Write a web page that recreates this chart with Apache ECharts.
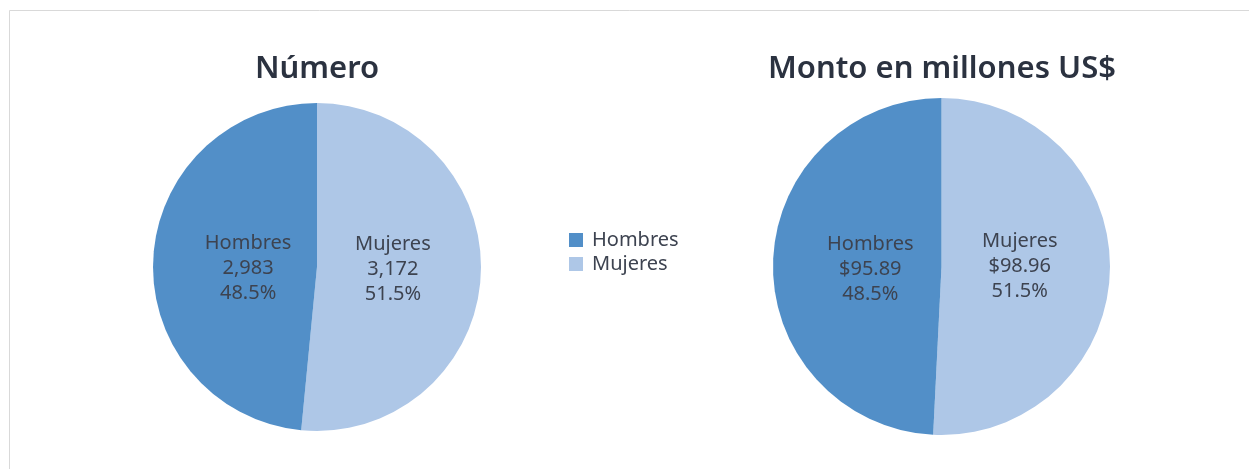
<!DOCTYPE html>
<html>
<head>
<meta charset="utf-8">
<script src="https://cdn.jsdelivr.net/npm/echarts@6/dist/echarts.min.js"></script>
<style>
  html, body { margin: 0; padding: 0; background: #ffffff; }
  #chart { width: 1249px; height: 469px; }
</style>
</head>
<body>
<div id="chart"></div>
<script>
// Categories in drawing order (clockwise from 12 o'clock) and legend order
const categories = ['Mujeres', 'Hombres'];
const legendOrder = ['Hombres', 'Mujeres'];

// Number of loans by gender
const countValues = [3172, 2983];
const countPercentLabels = ['51.5%', '48.5%'];

// Amount in millions of US$ by gender
const amountValues = [98.96, 95.89];
const amountPercentLabels = ['51.5%', '48.5%'];

const titles = ['Número', 'Monto en millones US$'];

const colors = { Mujeres: '#aec7e7', Hombres: '#528fc8' };
const textColor = '#3d4350';
const titleColor = '#2b3240';
const fontFamily = '"Noto Sans", "Open Sans", sans-serif';

// Nudge inner labels horizontally toward the pie's vertical axis
const labelShift = { Mujeres: [-9, -2], Hombres: [16, 5] };

function buildData(values) {
  return categories.map((name, i) => ({
    name: name,
    value: values[i],
    itemStyle: { color: colors[name] }
  }));
}

function pieSeries(values, percents, center, radius, fmt) {
  return {
    type: 'pie',
    center: center,
    radius: radius,
    startAngle: 90,
    clockwise: true,
    avoidLabelOverlap: false,
    emphasis: { disabled: true },
    itemStyle: { borderWidth: 0 },
    label: {
      show: true,
      position: 'inside',
      color: textColor,
      fontFamily: fontFamily,
      fontSize: 20,
      lineHeight: 25,
      formatter: p => p.name + '\n' + fmt(p.value) + '\n' + percents[p.dataIndex]
    },
    labelLayout: p => {
      const s = labelShift[categories[p.dataIndex]];
      return { dx: s[0], dy: s[1] };
    },
    labelLine: { show: false },
    data: buildData(values)
  };
}

const chart = echarts.init(document.getElementById('chart'), null, { renderer: 'canvas' });

const titleStyle = { fontFamily: fontFamily, fontSize: 31, fontWeight: 600, color: titleColor };

chart.setOption({
  animation: false,
  backgroundColor: '#ffffff',
  title: [
    { text: titles[0], left: 312, top: 49, textAlign: 'center', textStyle: titleStyle },
    { text: titles[1], left: 937, top: 49, textAlign: 'center', textStyle: titleStyle }
  ],
  legend: {
    orient: 'vertical',
    left: 569,
    top: 230,
    padding: 0,
    itemWidth: 14,
    itemHeight: 14,
    itemGap: 4,
    icon: 'rect',
    selectedMode: false,
    data: legendOrder,
    textStyle: { fontFamily: fontFamily, fontSize: 20, lineHeight: 20, color: textColor, padding: [0, 0, 0, 4] }
  },
  graphic: [
    {
      type: 'polyline',
      shape: { points: [[9.5, 469], [9.5, 10.5], [1249, 10.5]] },
      style: { stroke: '#d9d9d9', lineWidth: 1, fill: null },
      silent: true
    }
  ],
  series: [
    pieSeries(countValues, countPercentLabels, [317, 267], 164,
      v => v.toLocaleString('en-US')),
    pieSeries(amountValues, amountPercentLabels, [941.5, 266.5], 168.5,
      v => '$' + v.toFixed(2))
  ]
});
</script>
</body>
</html>
